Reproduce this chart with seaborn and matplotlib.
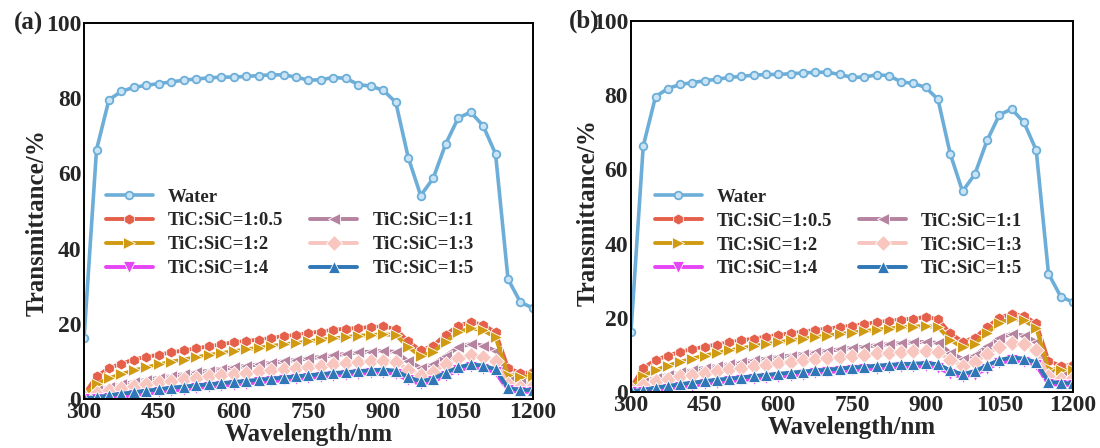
import numpy as np
import pandas as pd
import matplotlib
matplotlib.use('Agg')
import matplotlib.pyplot as plt
from matplotlib.lines import Line2D
import seaborn as sns

# Configuracion global
sns.set_style('white')
plt.rcParams['font.family'] = ['Liberation Serif', 'DejaVu Serif']
plt.rcParams['font.weight'] = 'bold'
plt.rcParams['axes.labelweight'] = 'bold'

# --- Datos ---
wavelength = list(range(300, 1201, 25))

water = [16.2, 66.3, 79.6, 81.8, 82.9, 83.4, 83.9, 84.3, 84.8, 85.1, 85.4, 85.6, 85.6,
         85.8, 86.0, 86.2, 86.2, 85.6, 84.8, 84.9, 85.5, 85.3, 83.6, 83.2, 82.1, 78.9,
         64.2, 54.1, 58.7, 67.8, 74.7, 76.3, 72.7, 65.2, 31.9, 25.7, 24.2]

# panel (a)
a_r05 = [1.2, 6.0, 8.2, 9.4, 10.5, 11.2, 11.8, 12.4, 12.9, 13.5, 14.0, 14.5, 15.1, 15.4,
         15.8, 16.2, 16.7, 17.0, 17.6, 17.9, 18.4, 18.7, 18.9, 19.1, 19.3, 18.6, 15.3,
         12.9, 14.2, 17.1, 19.5, 20.4, 19.8, 17.7, 8.2, 6.9, 7.1]
a_r1 = [0.8, 2.3, 3.2, 3.9, 4.5, 5.1, 5.6, 6.1, 6.6, 7.1, 7.5, 8.0, 8.4, 8.8, 9.2, 9.6,
        10.0, 10.4, 10.8, 11.2, 11.6, 12.0, 12.4, 12.6, 12.8, 12.5, 10.0, 8.3, 9.3, 11.5,
        13.7, 14.7, 14.2, 12.8, 5.0, 4.2, 4.3]
a_r2 = [1.0, 4.0, 5.5, 6.6, 7.6, 8.4, 9.2, 9.9, 10.5, 11.1, 11.7, 12.2, 12.7, 13.2, 13.6,
        14.1, 14.5, 14.9, 15.3, 15.8, 16.1, 16.5, 16.8, 17.0, 17.2, 17.0, 13.8, 11.4, 12.5,
        15.2, 17.7, 18.8, 18.3, 16.4, 6.5, 5.9, 6.0]
a_r3 = [0.6, 1.6, 2.4, 3.0, 3.5, 4.0, 4.4, 4.8, 5.2, 5.6, 6.0, 6.3, 6.7, 7.0, 7.4, 7.7,
        8.0, 8.3, 8.6, 8.9, 9.2, 9.5, 9.8, 10.0, 10.2, 9.9, 7.8, 6.4, 7.3, 9.2, 10.9, 11.7,
        11.3, 10.0, 3.9, 3.3, 3.4]
a_r4 = [0.1, 0.0, 0.2, 0.6, 1.0, 1.4, 1.8, 2.2, 2.5, 2.9, 3.2, 3.5, 3.8, 4.1, 4.4, 4.7,
        5.0, 5.3, 5.6, 5.9, 6.2, 6.4, 6.7, 6.9, 7.0, 6.7, 5.0, 4.0, 4.7, 6.2, 7.6, 8.4, 8.1,
        7.1, 2.3, 1.9, 1.9]
a_r5 = [0.3, 0.4, 1.0, 1.4, 1.8, 2.2, 2.6, 3.0, 3.3, 3.6, 3.9, 4.2, 4.5, 4.8, 5.1, 5.4,
        5.7, 6.0, 6.3, 6.6, 6.9, 7.1, 7.4, 7.6, 7.8, 7.5, 5.8, 4.7, 5.4, 7.0, 8.4, 9.2, 8.9,
        7.9, 2.9, 2.4, 2.4]

# panel (b)
b_r05 = [1.2, 6.5, 8.6, 9.8, 10.8, 11.6, 12.2, 12.8, 13.4, 13.9, 14.4, 14.9, 15.4, 15.8,
         16.3, 16.7, 17.1, 17.5, 17.9, 18.3, 18.8, 19.2, 19.5, 19.8, 20.2, 19.7, 15.8,
         13.6, 14.6, 17.5, 20.0, 21.1, 20.5, 18.5, 8.4, 7.0, 7.3]
b_r1 = [0.9, 2.8, 3.8, 4.6, 5.3, 5.9, 6.5, 7.0, 7.5, 8.0, 8.5, 9.0, 9.4, 9.8, 10.3, 10.7,
        11.1, 11.5, 11.9, 12.2, 12.6, 12.9, 13.2, 13.4, 13.5, 13.2, 10.6, 8.9, 9.9, 12.3,
        14.6, 15.7, 15.2, 13.6, 5.3, 4.5, 4.6]
b_r2 = [1.0, 4.3, 5.9, 7.1, 8.1, 9.0, 9.8, 10.5, 11.2, 11.8, 12.4, 12.9, 13.4, 13.9, 14.3,
        14.8, 15.2, 15.6, 16.0, 16.4, 16.8, 17.1, 17.4, 17.6, 17.8, 17.5, 14.1, 12.0, 13.0,
        15.9, 18.6, 19.8, 19.3, 17.3, 6.4, 5.8, 5.9]
b_r3 = [0.7, 2.0, 2.9, 3.6, 4.2, 4.7, 5.2, 5.7, 6.1, 6.6, 7.0, 7.4, 7.8, 8.1, 8.5, 8.9,
        9.2, 9.5, 9.8, 10.1, 10.4, 10.6, 10.9, 11.0, 11.1, 10.8, 8.6, 7.1, 8.0, 10.2, 12.2,
        13.3, 12.9, 11.4, 4.3, 3.6, 3.7]
b_r4 = [0.1, 0.1, 0.4, 0.9, 1.3, 1.7, 2.1, 2.5, 2.9, 3.2, 3.5, 3.8, 4.1, 4.4, 4.7, 5.0,
        5.3, 5.6, 5.8, 6.1, 6.3, 6.5, 6.7, 6.8, 6.9, 6.6, 4.9, 4.0, 4.7, 6.3, 7.8, 8.5, 8.2,
        7.2, 2.2, 1.9, 1.9]
b_r5 = [0.3, 0.5, 1.2, 1.6, 2.1, 2.5, 2.9, 3.3, 3.6, 3.9, 4.3, 4.6, 4.9, 5.2, 5.5, 5.8,
        6.0, 6.3, 6.6, 6.8, 7.1, 7.3, 7.5, 7.6, 7.8, 7.5, 5.8, 4.8, 5.6, 7.2, 8.6, 9.3, 9.0,
        8.0, 2.8, 2.4, 2.4]

LABELS = ['Water', 'TiC:SiC=1:0.5', 'TiC:SiC=1:1', 'TiC:SiC=1:2',
          'TiC:SiC=1:3', 'TiC:SiC=1:4', 'TiC:SiC=1:5']
COLORS = ['#6caed8', '#e4604a', '#b5829f', '#d09a12', '#f8c6bf', '#e545f5', '#2f77b6']
MARKERS = ['o', 'h', '<', '>', 'D', 'v', '^']
X_TICKS = [300, 450, 600, 750, 900, 1050, 1200]
Y_TICKS = [0, 20, 40, 60, 80, 100]


def plot_panel(ax, series, tag, tag_x, leg_xy, ylab_xy):
    for lab, col, mk, vals in zip(LABELS, COLORS, MARKERS, series):
        if lab == 'Water':
            sns.lineplot(x=wavelength, y=vals, ax=ax, color=col, marker=mk, markersize=5.5,
                         markerfacecolor='#c9e4f6', markeredgecolor=col, markeredgewidth=1.3,
                         linewidth=2.6, label=lab)
        else:
            sns.lineplot(x=wavelength, y=vals, ax=ax, color=col, marker=mk, markersize=8,
                         markeredgecolor='white', markeredgewidth=0.6,
                         linewidth=2.8, label=lab)

    ax.set_xlim(300, 1200)
    ax.set_ylim(0, 100)
    ax.set_xticks(X_TICKS)
    ax.set_yticks(Y_TICKS)
    ax.set_xlabel('Wavelength/nm', fontsize=18, fontweight='bold', labelpad=0)
    ax.set_ylabel('Transmittance/%', fontsize=18, fontweight='bold')
    ax.yaxis.set_label_coords(*ylab_xy)
    ax.tick_params(direction='in', length=4, width=1.2, labelsize=17, pad=2)
    for lbl in ax.get_xticklabels() + ax.get_yticklabels():
        lbl.set_fontweight('bold')
    for sp in ax.spines.values():
        sp.set_linewidth(1.4)
        sp.set_color('black')

    ax.text(tag_x, 1.0, tag, transform=ax.transAxes, ha='right', va='center',
            fontsize=18, fontweight='bold')

    # leyenda: Water arriba sola, luego dos columnas
    h, l = ax.get_legend_handles_labels()
    d = dict(zip(l, h))
    blank = Line2D([], [], color='none')
    order = ['Water', 'TiC:SiC=1:0.5', 'TiC:SiC=1:2', 'TiC:SiC=1:4',
             None, 'TiC:SiC=1:1', 'TiC:SiC=1:3', 'TiC:SiC=1:5']
    handles = [d[k] if k else blank for k in order]
    labels = [k if k else '' for k in order]
    ax.legend(handles, labels, ncol=2, loc='upper left', bbox_to_anchor=leg_xy,
              frameon=False, borderpad=0, borderaxespad=0, handlelength=2.5,
              handletextpad=0.8, columnspacing=1.45, labelspacing=0.36,
              prop={'family': 'Liberation Serif', 'weight': 'bold', 'size': 13.5})


fig = plt.figure(figsize=(11, 4.48), dpi=100)
ax_a = fig.add_axes([0.0764, 0.1094, 0.4081, 0.8393])
ax_b = fig.add_axes([0.5736, 0.125, 0.4019, 0.828])

plot_panel(ax_a, [water, a_r05, a_r1, a_r2, a_r3, a_r4, a_r5], '(a)', -0.092,
           (0.049, 0.56), (-0.079, 0.47))
plot_panel(ax_b, [water, b_r05, b_r1, b_r2, b_r3, b_r4, b_r5], '(b)', -0.072,
           (0.054, 0.548), (-0.071, 0.485))

fig.savefig('out.png', dpi=100)
